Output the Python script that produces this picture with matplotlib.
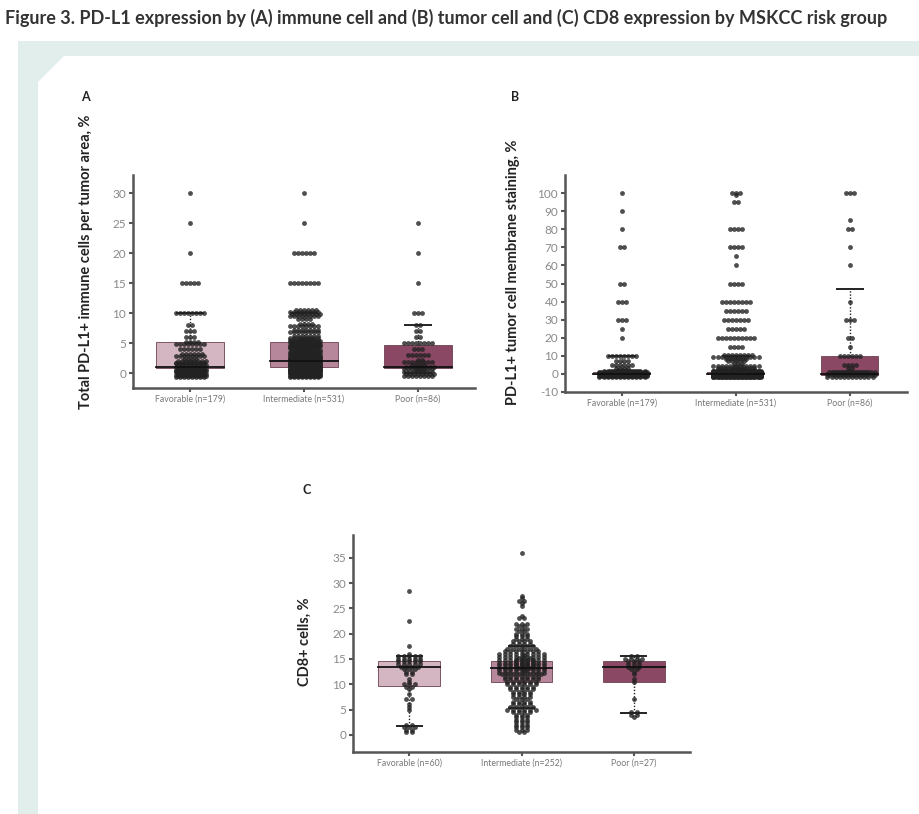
import math
import matplotlib
matplotlib.use("Agg")
import matplotlib.pyplot as plt
from matplotlib.patches import Polygon, Rectangle

W, H = 920, 814

# ---- data: value rows and how many dots sit on each ----
groups = ["Favorable", "Intermediate", "Poor"]

# (A) total PD-L1+ immune cells per tumor area, %
a_fav_vals = [30, 25, 20, 15, 10, 8, 7, 6, 5, 4, 3, 2, 1, 0.5, 0]
a_fav_cnts = [1, 1, 1, 5, 8, 2, 3, 3, 12, 6, 14, 20, 40, 3, 60]
a_int_vals = [30, 25, 20, 15, 10, 9, 8, 7, 6, 5, 4, 3, 2, 1, 0]
a_int_cnts = [1, 1, 6, 8, 30, 4, 12, 15, 15, 60, 30, 50, 80, 120, 99]
a_poor_vals = [25, 20, 15, 10, 8, 7, 6, 5, 4, 3, 2, 1, 0]
a_poor_cnts = [1, 1, 1, 3, 2, 2, 2, 8, 3, 6, 10, 20, 27]
a_n = [179, 531, 86]
a_box = [(0.8, 1.0, 5.2), (1.0, 2.0, 5.2), (0.8, 1.0, 4.6)]   # q1, median, q3
a_whisk = [(0, 10), (0, 10), (0, 8)]

# (B) PD-L1+ tumor cell membrane staining, %
b_fav_vals = [100, 90, 80, 70, 50, 40, 30, 25, 20, 10, 7, 5, 3, 2, 1, 0]
b_fav_cnts = [1, 1, 1, 2, 2, 3, 3, 1, 1, 8, 4, 6, 4, 3, 20, 119]
b_int_vals = [100, 99, 95, 80, 70, 65, 60, 50, 40, 35, 30, 25, 20, 15, 10, 8, 7, 5, 3, 2, 1, 0]
b_int_cnts = [3, 1, 2, 4, 4, 1, 1, 4, 8, 6, 7, 5, 10, 4, 20, 6, 5, 15, 10, 10, 40, 366]
b_poor_vals = [100, 85, 80, 70, 60, 40, 30, 20, 15, 10, 5, 3, 1, 0]
b_poor_cnts = [3, 1, 2, 1, 1, 1, 3, 2, 1, 6, 4, 2, 10, 49]
b_n = [179, 531, 86]
b_box = [(0, 0, 1), (0, 0, 1), (-0.5, 0, 10)]
b_whisk = [(0, 10), (0, 10), (0, 47)]

# (C) CD8+ cells, %
c_fav_vals = [28.5, 22.5, 17.5, 16, 15.5, 15, 14.5, 14, 13.5, 13, 12.5, 12, 11, 10.5, 10,
              9.5, 9, 8, 7, 6, 5.5, 5, 2, 1.5, 1, 0.5]
c_fav_cnts = [1, 1, 1, 1, 5, 5, 5, 5, 4, 3, 2, 2, 1, 1, 3, 2, 1, 1, 2, 1, 1, 1, 2, 3, 2, 2]
c_int_vals = [36, 27.5, 27, 26.5, 26, 25.5, 23.5, 23, 22, 21.5, 21, 20.5, 20, 19.5, 19, 18.5,
              18, 17.5, 17, 16.5, 16, 15.5, 15, 14.5, 14, 13.5, 13, 12.5, 12, 11.5, 11, 10.5,
              10, 9.5, 9, 8.5, 8, 7.5, 7, 6.5, 6, 5.5, 5, 4.5, 4, 3.5, 3, 2.5, 2, 1.5, 1, 0.5]
c_int_cnts = [1, 1, 1, 2, 1, 1, 1, 2, 3, 2, 3, 2, 3, 3, 3, 4,
              4, 5, 6, 7, 9, 10, 12, 13, 13, 13, 12, 10, 8, 7, 7, 6,
              6, 5, 5, 4, 4, 4, 3, 4, 4, 5, 6, 4, 3, 3, 3, 3, 3, 3, 3, 2]
c_poor_vals = [15.5, 15, 14.5, 14, 13.5, 13, 12.5, 12, 11, 10.5, 7, 4.5, 4, 3.5]
c_poor_cnts = [2, 4, 3, 3, 3, 2, 1, 1, 1, 1, 1, 2, 2, 1]
c_n = [60, 252, 27]
c_box = [(9.7, 13.5, 14.5), (10.5, 13.2, 14.5), (10.5, 13.5, 14.5)]
c_whisk = [(1.8, 15.5), (5.3, 17.5), (4.3, 15.5)]

box_colors = ["#d3b6c1", "#b6869a", "#8b4864"]
dot_color = "#222222"


def px(x0, y0, x1, y1):
    # pixel box (top-left origin) -> figure fraction rect
    return [x0 / W, 1 - y1 / H, (x1 - x0) / W, (y1 - y0) / H]


def swarm(vals, cnts, xc, ppu, maxw, dx=0.036, dy_px=2.2, spread_px=9):
    xs, ys = [], []
    per = max(1, int(maxw / dx) + 1)
    for v, n in zip(vals, cnts):
        nrows = math.ceil(n / per)
        step = min(dy_px, spread_px / max(nrows - 1, 1)) / ppu
        for r in range(nrows):
            k = min(per, n - r * per)
            off = (r - (nrows - 1) / 2) * step
            shift = dx / 2 if r % 2 else 0
            for j in range(k):
                xs.append(xc + (j - (k - 1) / 2) * dx + shift)
                ys.append(v + off)
    return xs, ys


def panel(ax, data, boxes, whisk, n, ylim, yticks, bw, maxw, spread, dx=0.036):
    ax.set_xlim(-0.5, 2.5)
    ax.set_ylim(*ylim)
    bb = ax.get_position()
    ppu = bb.height * H / (ylim[1] - ylim[0])
    for i, ((vals, cnts), (q1, med, q3), (wl, wh)) in enumerate(zip(data, boxes, whisk)):
        ax.add_patch(Rectangle((i - bw / 2, q1), bw, q3 - q1, facecolor=box_colors[i],
                               edgecolor="#6d4050", lw=0.6, zorder=1))
        ax.plot([i, i], [q3, wh], color="#222", lw=1.0, ls=(0, (1, 1.3)), zorder=2)
        ax.plot([i, i], [wl, q1], color="#222", lw=1.0, ls=(0, (1, 1.3)), zorder=2)
        ax.plot([i - 0.11, i + 0.11], [wh, wh], color="#222", lw=1.4, zorder=4)
        ax.plot([i - 0.11, i + 0.11], [wl, wl], color="#222", lw=1.4, zorder=4)
        xs, ys = swarm(vals, cnts, i, ppu, maxw, dx=dx, spread_px=spread)
        ax.scatter(xs, ys, s=12, color=dot_color, alpha=0.8, lw=0, zorder=3)
        ax.plot([i - bw / 2, i + bw / 2], [med, med], color="#111", lw=1.3, zorder=5)
    ax.set_xticks(range(3))
    ax.set_xticklabels([f"{g} (n={k})" for g, k in zip(groups, n)],
                       fontsize=6.3, color="#777")
    ax.set_yticks(list(yticks))
    ax.set_yticklabels([str(v) for v in yticks], fontsize=8.5, color="#8a8a8a")
    for s in ["top", "right"]:
        ax.spines[s].set_visible(False)
    for s in ["left", "bottom"]:
        ax.spines[s].set_color("#555")
        ax.spines[s].set_linewidth(1.8)
    ax.tick_params(length=3, width=1.5, color="#555", pad=2)


plt.rcParams["font.family"] = ["Lato", "DejaVu Sans"]
fig = plt.figure(figsize=(W / 100, H / 100), dpi=100)
fig.patch.set_facecolor("white")


def fpts(pts):
    return [(x / W, 1 - y / H) for x, y in pts]


# page background: teal frame with a white card (cut corner)
fig.add_artist(Polygon(fpts([(18, 41), (W, 41), (W, H), (18, H)]),
                       closed=True, facecolor="#e2eeec", edgecolor="none",
                       transform=fig.transFigure, zorder=0))
fig.add_artist(Polygon(fpts([(38, 82), (64, 56), (W, 56), (W, H), (38, H)]),
                       closed=True, facecolor="white", edgecolor="none",
                       transform=fig.transFigure, zorder=0))

fig.text(5 / W, 1 - 18 / H,
         "Figure 3. PD-L1 expression by (A) immune cell and (B) tumor cell and (C) CD8 "
         "expression by MSKCC risk group",
         fontsize=13, fontweight="bold", color="#333", va="center", ha="left")

axA = fig.add_axes(px(133, 175, 475, 388))
axB = fig.add_axes(px(565, 175, 907, 392))
axC = fig.add_axes(px(353, 535, 690, 752))

panel(axA, [(a_fav_vals, a_fav_cnts), (a_int_vals, a_int_cnts), (a_poor_vals, a_poor_cnts)],
      a_box, a_whisk, a_n, (-2.5, 33), range(0, 31, 5), bw=0.6, maxw=0.27, spread=8)
panel(axB, [(b_fav_vals, b_fav_cnts), (b_int_vals, b_int_cnts), (b_poor_vals, b_poor_cnts)],
      b_box, b_whisk, b_n, (-10, 110), range(-10, 101, 10), bw=0.5, maxw=0.4, spread=6)
panel(axC, [(c_fav_vals, c_fav_cnts), (c_int_vals, c_int_cnts), (c_poor_vals, c_poor_cnts)],
      c_box, c_whisk, c_n, (-3.4, 39.5), range(0, 36, 5), bw=0.55, maxw=0.42, spread=5,
      dx=0.05)

lab = dict(fontsize=10.5, fontweight="bold", color="#222", rotation=90, ha="center", va="center")
fig.text(86 / W, 1 - 262 / H, "Total PD-L1+ immune cells per tumor area, %", **lab)
fig.text(513 / W, 1 - 272 / H, "PD-L1+ tumor cell membrane staining, %", **lab)
fig.text(305 / W, 1 - 642 / H, "CD8+ cells, %", **lab)

let = dict(fontsize=9, fontweight="bold", color="#222", ha="center", va="center")
fig.text(85 / W, 1 - 97 / H, "A", **let)
fig.text(515 / W, 1 - 97 / H, "B", **let)
fig.text(307 / W, 1 - 490 / H, "C", **let)

fig.savefig("out.png", dpi=100)
